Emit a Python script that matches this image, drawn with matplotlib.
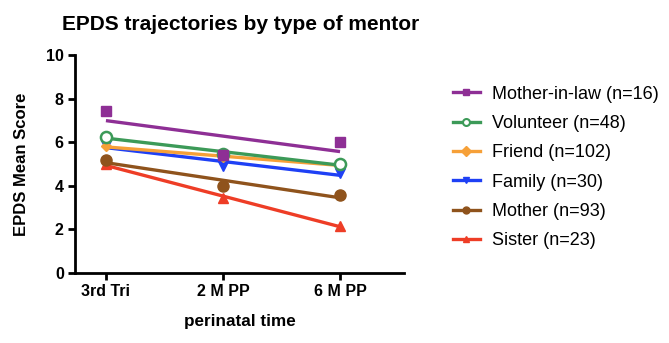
import numpy as np
import matplotlib
matplotlib.use("Agg")
import matplotlib.pyplot as plt
from matplotlib.lines import Line2D

plt.rcParams['font.family'] = ['Liberation Sans', 'DejaVu Sans']

timepoints = ["3rd Tri", "2 M PP", "6 M PP"]
series_names = ["Mother-in-law (n=16)", "Volunteer (n=48)", "Friend (n=102)",
                "Family (n=30)", "Mother (n=93)", "Sister (n=23)"]
mother_in_law = [7.41, 5.43, 5.99]
volunteer = [6.24, 5.45, 5.00]
friend = [5.81, 5.30, 4.96]
family = [5.86, 4.89, 4.59]
mother = [5.20, 3.97, 3.59]
sister = [4.98, 3.43, 2.17]
values = [mother_in_law, volunteer, friend, family, mother, sister]
colors = ["#8E2F95", "#3C9A58", "#F6A038", "#1E40F5", "#8F531C", "#EE3D26"]
markers = ["s", "o", "D", "v", "o", "^"]
fills = ["full", "none", "full", "full", "full", "full"]
msizes = [7, 8, 5, 7, 8, 7]

fig = plt.figure(figsize=(6.69, 3.43), dpi=100)
ax = fig.add_axes([0.112, 0.204, 0.492, 0.636])

x = np.arange(len(timepoints))
handles = []
n = len(values)
for i, (name, vals, c, m, f, ms) in enumerate(zip(series_names, values, colors, markers, fills, msizes)):
    vals = np.array(vals)
    slope, intercept = np.polyfit(x, vals, 1)
    xf = np.array([x[0], x[-1]])
    ax.plot(xf, intercept + slope * xf, color=c, lw=2.4, solid_capstyle='butt', zorder=2 + (n - i) * 0.01)
    if f == "none":
        ax.plot(x, vals, linestyle='none', marker=m, ms=ms, mfc='white', mec=c, mew=1.8, zorder=3 + (n - i) * 0.1)
        h = Line2D([], [], color=c, lw=2.4, marker=m, ms=5, mfc='white', mec=c, mew=1.5)
    else:
        ax.plot(x, vals, linestyle='none', marker=m, ms=ms, color=c, zorder=3 + (n - i) * 0.1)
        h = Line2D([], [], color=c, lw=2.4, marker=m, ms=5)
    handles.append(h)

ax.set_xlim(-0.265, 2.547)
ax.set_ylim(0, 10)
ax.set_yticks([0, 2, 4, 6, 8, 10])
ax.set_xticks(x)
ax.set_xticklabels(timepoints)
for s in ['top', 'right']:
    ax.spines[s].set_visible(False)
for s in ['left', 'bottom']:
    ax.spines[s].set_linewidth(2)
ax.tick_params(width=2, length=5, labelsize=11.5, pad=3)
for lab in ax.get_xticklabels() + ax.get_yticklabels():
    lab.set_fontweight('bold')
ax.set_xlabel("perinatal time", fontsize=12.3, fontweight='bold', labelpad=11)
ax.set_ylabel("EPDS Mean Score", fontsize=12, fontweight='bold', labelpad=12)
fig.text(0.093, 0.9125, "EPDS trajectories by type of mentor", fontsize=15,
         fontweight='bold', ha='left', va='baseline')

fig.legend(handles=handles, labels=series_names, loc='upper left',
           bbox_to_anchor=(0.666, 0.771), frameon=False, fontsize=13,
           borderaxespad=0, handlelength=1.5, handletextpad=0.66, labelspacing=0.68)

fig.savefig("out.png", dpi=100)
